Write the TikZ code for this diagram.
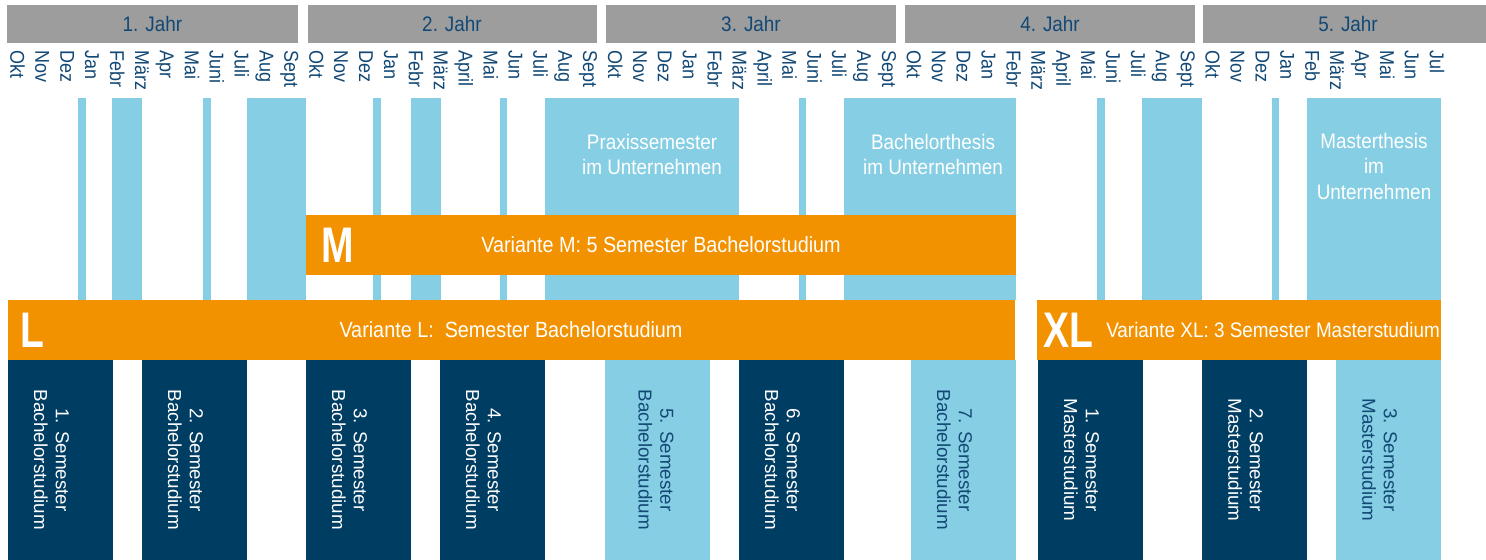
\documentclass[tikz,border=0pt]{standalone}
\usepackage{fontspec}
\setmainfont[FakeStretch=0.9]{Liberation Sans}
\newfontfamily\semfont{Liberation Sans}
\newfontfamily\bigfont[FakeStretch=0.78]{Liberation Sans}

\definecolor{jahrgrau}{RGB}{157,157,157}
\definecolor{schriftblau}{RGB}{18,72,117}
\definecolor{dunkelblau}{RGB}{0,61,99}
\definecolor{hellblau}{RGB}{134,206,227}
\definecolor{variorange}{RGB}{243,146,0}

\tikzset{every picture/.style={line width=0.75pt}}
\tikzset{
  jahrbox/.style={fill=jahrgrau},
  jahrtext/.style={text=schriftblau,font=\fontsize{10.5}{12}\selectfont,inner sep=0.75pt},
  monat/.style={text=schriftblau,font=\fontsize{10}{12}\selectfont,rotate=-90,anchor=base west,inner sep=0pt},
  frei/.style={fill=hellblau},
  variante/.style={fill=variorange},
  kuerzel/.style={text=white,font=\bigfont\fontsize{25}{25}\selectfont\bfseries,anchor=west,inner sep=0pt},
  variantetext/.style={text=white,font=\fontsize{11}{12}\selectfont,inner sep=0.75pt},
  semdunkel/.style={fill=dunkelblau},
  semhell/.style={fill=hellblau},
  semtext/.style={rotate=-90,align=center,font=\semfont\fontsize{9.4}{10.8}\selectfont,inner sep=0pt},
  firmatext/.style={text=white,align=center,font=\fontsize{10.5}{12.5}\selectfont,inner sep=0pt}
}

\begin{document}
\begin{tikzpicture}[x=0.5pt,y=0.5pt,yscale=-1,xscale=1]
\useasboundingbox (0,0) rectangle (1486,560);

%Shape: Rectangle 1. Jahr
\fill [jahrbox] (7,5) -- (298,5) -- (298,43) -- (7,43) -- cycle ;
%Shape: Rectangle 2. Jahr
\fill [jahrbox] (308,5) -- (597,5) -- (597,43) -- (308,43) -- cycle ;
%Shape: Rectangle 3. Jahr
\fill [jahrbox] (606,5) -- (896,5) -- (896,43) -- (606,43) -- cycle ;
%Shape: Rectangle 4. Jahr
\fill [jahrbox] (905,5) -- (1195,5) -- (1195,43) -- (905,43) -- cycle ;
%Shape: Rectangle 5. Jahr
\fill [jahrbox] (1203,5) -- (1486,5) -- (1486,43) -- (1203,43) -- cycle ;

% Text Node
\node (jahr1) at (152.5,24) [jahrtext] {1. Jahr};
% Text Node
\node (jahr2) at (452,24) [jahrtext] {2. Jahr};
% Text Node
\node (jahr3) at (751,24) [jahrtext] {3. Jahr};
% Text Node
\node (jahr4) at (1050,24) [jahrtext] {4. Jahr};
% Text Node
\node (jahr5) at (1348,24) [jahrtext] {5. Jahr};

% Monate 1. Jahr
\node (okt1) at (10.5,50) [monat] {Okt};
\node (nov1) at (35.4,50) [monat] {Nov};
\node (dez1) at (60.3,50) [monat] {Dez};
\node (jan1) at (85.2,50) [monat] {Jan};
\node (feb1) at (110.1,50) [monat] {Febr};
\node (mar1) at (135.0,50) [monat] {März};
\node (apr1) at (159.9,50) [monat] {Apr};
\node (mai1) at (184.8,50) [monat] {Mai};
\node (jun1) at (209.7,50) [monat] {Juni};
\node (jul1) at (234.6,50) [monat] {Juli};
\node (aug1) at (259.5,50) [monat] {Aug};
\node (sep1) at (284.4,50) [monat] {Sept};
% Monate 2. Jahr
\node (okt2) at (309.3,50) [monat] {Okt};
\node (nov2) at (334.2,50) [monat] {Nov};
\node (dez2) at (359.1,50) [monat] {Dez};
\node (jan2) at (384.0,50) [monat] {Jan};
\node (feb2) at (408.9,50) [monat] {Febr};
\node (mar2) at (433.8,50) [monat] {März};
\node (apr2) at (458.7,50) [monat] {April};
\node (mai2) at (483.6,50) [monat] {Mai};
\node (jun2) at (508.5,50) [monat] {Jun};
\node (jul2) at (533.4,50) [monat] {Juli};
\node (aug2) at (558.3,50) [monat] {Aug};
\node (sep2) at (583.2,50) [monat] {Sept};
% Monate 3. Jahr
\node (okt3) at (608.1,50) [monat] {Okt};
\node (nov3) at (633.0,50) [monat] {Nov};
\node (dez3) at (657.9,50) [monat] {Dez};
\node (jan3) at (682.8,50) [monat] {Jan};
\node (feb3) at (707.7,50) [monat] {Febr};
\node (mar3) at (732.6,50) [monat] {März};
\node (apr3) at (757.5,50) [monat] {April};
\node (mai3) at (782.4,50) [monat] {Mai};
\node (jun3) at (807.3,50) [monat] {Juni};
\node (jul3) at (832.2,50) [monat] {Juli};
\node (aug3) at (857.1,50) [monat] {Aug};
\node (sep3) at (882.0,50) [monat] {Sept};
% Monate 4. Jahr
\node (okt4) at (906.9,50) [monat] {Okt};
\node (nov4) at (931.8,50) [monat] {Nov};
\node (dez4) at (956.7,50) [monat] {Dez};
\node (jan4) at (981.6,50) [monat] {Jan};
\node (feb4) at (1006.5,50) [monat] {Febr};
\node (mar4) at (1031.4,50) [monat] {März};
\node (apr4) at (1056.3,50) [monat] {April};
\node (mai4) at (1081.2,50) [monat] {Mai};
\node (jun4) at (1106.1,50) [monat] {Juni};
\node (jul4) at (1131.0,50) [monat] {Juli};
\node (aug4) at (1155.9,50) [monat] {Aug};
\node (sep4) at (1180.8,50) [monat] {Sept};
% Monate 5. Jahr
\node (okt5) at (1205.7,50) [monat] {Okt};
\node (nov5) at (1230.6,50) [monat] {Nov};
\node (dez5) at (1255.5,50) [monat] {Dez};
\node (jan5) at (1280.4,50) [monat] {Jan};
\node (feb5) at (1305.3,50) [monat] {Feb};
\node (mar5) at (1330.2,50) [monat] {März};
\node (apr5) at (1355.1,50) [monat] {Apr};
\node (mai5) at (1380.0,50) [monat] {Mai};
\node (jun5) at (1404.9,50) [monat] {Jun};
\node (jul5) at (1429.8,50) [monat] {Jul};

%Shape: Rectangle (vorlesungsfreie Zeit)
\fill [frei] (78,98) -- (86,98) -- (86,300) -- (78,300) -- cycle ;
\fill [frei] (112,98) -- (142,98) -- (142,300) -- (112,300) -- cycle ;
\fill [frei] (203,98) -- (211,98) -- (211,300) -- (203,300) -- cycle ;
\fill [frei] (247,98) -- (306,98) -- (306,300) -- (247,300) -- cycle ;
\fill [frei] (373,98) -- (381,98) -- (381,300) -- (373,300) -- cycle ;
\fill [frei] (411,98) -- (441,98) -- (441,300) -- (411,300) -- cycle ;
\fill [frei] (500,98) -- (507,98) -- (507,300) -- (500,300) -- cycle ;
\fill [frei] (545,98) -- (739,98) -- (739,300) -- (545,300) -- cycle ;
\fill [frei] (799,98) -- (806,98) -- (806,300) -- (799,300) -- cycle ;
\fill [frei] (844,98) -- (1016,98) -- (1016,300) -- (844,300) -- cycle ;
\fill [frei] (1097,98) -- (1105,98) -- (1105,300) -- (1097,300) -- cycle ;
\fill [frei] (1142,98) -- (1202,98) -- (1202,300) -- (1142,300) -- cycle ;
\fill [frei] (1272,98) -- (1279,98) -- (1279,300) -- (1272,300) -- cycle ;
\fill [frei] (1307,98) -- (1441,98) -- (1441,300) -- (1307,300) -- cycle ;

% Text Node
\node (praxis) at (652,154.5) [firmatext] {Praxissemester\\im Unternehmen};
% Text Node
\node (bathesis) at (933,154.5) [firmatext] {Bachelorthesis\\im Unternehmen};
% Text Node
\node (mathesis) at (1374,166.5) [firmatext] {Masterthesis\\im\\Unternehmen};

%Shape: Rectangle Variante M
\fill [variante] (306,215) -- (1016,215) -- (1016,275) -- (306,275) -- cycle ;
%Shape: Rectangle Variante L
\fill [variante] (8,300) -- (1015,300) -- (1015,360) -- (8,360) -- cycle ;
%Shape: Rectangle Variante XL
\fill [variante] (1037,300) -- (1441,300) -- (1441,360) -- (1037,360) -- cycle ;

% Text Node
\node (kM) at (321,245) [kuerzel] {M};
% Text Node
\node (varM) at (661,245) [variantetext] {Variante M: 5 Semester Bachelorstudium};
% Text Node
\node (kL) at (20,330) [kuerzel] {L};
% Text Node
\node (varL) at (511,330) [variantetext] {Variante L:\ \ Semester Bachelorstudium};
% Text Node
\node (kXL) at (1043,330) [kuerzel] {XL};
% Text Node
\node (varXL) at (1104,330) [variantetext,anchor=west,font=\fontsize{10.5}{12}\selectfont] {Variante XL: 3 Semester Masterstudium};

%Shape: Rectangle Semester
\fill [semdunkel] (8,360) -- (113,360) -- (113,560) -- (8,560) -- cycle ;
\fill [semdunkel] (142,360) -- (247,360) -- (247,560) -- (142,560) -- cycle ;
\fill [semdunkel] (306,360) -- (411,360) -- (411,560) -- (306,560) -- cycle ;
\fill [semdunkel] (440,360) -- (545,360) -- (545,560) -- (440,560) -- cycle ;
\fill [semhell] (605,360) -- (710,360) -- (710,560) -- (605,560) -- cycle ;
\fill [semdunkel] (739,360) -- (844,360) -- (844,560) -- (739,560) -- cycle ;
\fill [semhell] (911,360) -- (1016,360) -- (1016,560) -- (911,560) -- cycle ;
\fill [semdunkel] (1038,360) -- (1143,360) -- (1143,560) -- (1038,560) -- cycle ;
\fill [semdunkel] (1202,360) -- (1307,360) -- (1307,560) -- (1202,560) -- cycle ;
\fill [semhell] (1336,360) -- (1441,360) -- (1441,560) -- (1336,560) -- cycle ;

% Text Node
\node (bsem1) at (51.5,460) [semtext,text=white] {1. Semester\\Bachelorstudium};
% Text Node
\node (bsem2) at (185.5,460) [semtext,text=white] {2. Semester\\Bachelorstudium};
% Text Node
\node (bsem3) at (349.5,460) [semtext,text=white] {3. Semester\\Bachelorstudium};
% Text Node
\node (bsem4) at (483.5,460) [semtext,text=white] {4. Semester\\Bachelorstudium};
% Text Node
\node (bsem5) at (656,460) [semtext,text=schriftblau] {5. Semester\\Bachelorstudium};
% Text Node
\node (bsem6) at (782.5,460) [semtext,text=white] {6. Semester\\Bachelorstudium};
% Text Node
\node (bsem7) at (954.5,460) [semtext,text=schriftblau] {7. Semester\\Bachelorstudium};
% Text Node
\node (msem1) at (1081.5,460) [semtext,text=white] {1. Semester\\Masterstudium};
% Text Node
\node (msem2) at (1245.5,460) [semtext,text=white] {2. Semester\\Masterstudium};
% Text Node
\node (msem3) at (1379.5,460) [semtext,text=schriftblau] {3. Semester\\Masterstudium};

\end{tikzpicture}
\end{document}
